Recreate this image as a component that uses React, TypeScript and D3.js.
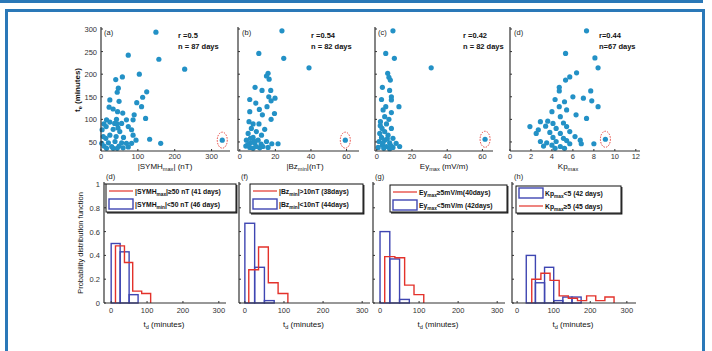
import React, { useEffect, useRef } from "react";
import * as d3 from "d3";

const W = 712;
const H = 351;
const FONT = "'Liberation Sans', Arial, sans-serif";
const FRAME = "#2a78b8";
const DOT = "#2391c6";
const RED = "#e3322b";
const NAVY = "#3f46b2";
const AXIS = "#333";

// top row: [driver value, t_e (minutes)] per event
const symhPts = [
  [149, 293], [74, 242], [157, 233], [227, 211], [104, 200], [58, 194], [40, 188], [47, 169],
  [44, 160], [124, 161], [24, 143], [49, 140], [113, 149], [110, 128], [97, 137], [22, 127],
  [33, 123], [45, 117], [59, 114], [90, 110], [121, 102], [87, 99], [8, 90], [24, 94],
  [42, 100], [44, 90], [56, 91], [74, 84], [83, 77], [14, 84], [3, 77], [33, 78],
  [51, 73], [87, 65], [24, 65], [41, 62], [61, 60], [13, 58], [95, 54], [132, 56],
  [162, 47], [2, 47], [20, 48], [38, 51], [56, 48], [69, 47], [83, 47], [8, 41],
  [29, 40], [49, 41], [33, 36], [15, 36], [60, 37], [74, 39], [44, 36], [6, 62],
  [46, 81], [69, 99], [15, 99], [37, 91],
];
const symhOutlier = [329, 54];

const bzPts = [
  [23.7, 296], [10.7, 246], [24.7, 235], [38.9, 214], [15.9, 202], [15, 196], [16.5, 189], [8.6, 171],
  [12.5, 164], [17.4, 164], [16.3, 150], [19.8, 147], [5.6, 144], [17.6, 141], [9, 136], [15.3, 128],
  [11, 122], [5.6, 117], [19.5, 113], [12.7, 110], [17.6, 100], [5.2, 95], [7.5, 90], [10.8, 90],
  [6.5, 80], [14, 78], [9.3, 73], [4.7, 69], [12.2, 65], [7.5, 60], [3.7, 54], [10.3, 54],
  [15, 51], [6, 48], [8.4, 47], [18, 46], [21.5, 46], [3.4, 41], [9.3, 40], [13, 40],
  [5.6, 38], [11.2, 37], [7.5, 36], [15.9, 38], [4.5, 44], [12, 45], [8, 52], [6, 58],
];
const bzOutlier = [59.3, 54];

const eyPts = [
  [9.2, 296], [5.1, 246], [10, 235], [30.9, 214], [6.2, 202], [6.9, 193], [7.7, 187], [3.2, 171],
  [7.3, 164], [8.3, 150], [2.7, 144], [8.3, 143], [12.6, 128], [5.1, 128], [3.6, 121], [8.3, 115],
  [4.5, 106], [6.9, 100], [2.1, 95], [5.5, 90], [3, 80], [8.3, 80], [4.5, 73], [1.7, 69],
  [6.4, 65], [2.7, 60], [9.2, 58], [4.5, 54], [1.3, 51], [7.3, 48], [11, 47], [3.2, 43],
  [5.5, 40], [0.8, 38], [9.2, 38], [4, 36], [7.3, 35], [13, 40], [2, 86], [6, 57],
  [3.5, 48], [8, 42],
];
const eyOutlier = [61.5, 56];

const kpPts = [
  [7.3, 296], [5.3, 246], [8.1, 236], [8.4, 214], [6.35, 203], [5.7, 194], [5.3, 187], [4.7, 171],
  [4.7, 163], [7.7, 163], [6, 150], [7, 147], [4.3, 144], [5.2, 139], [7.8, 141], [4.7, 128],
  [8.4, 128], [5.4, 121], [4, 117], [6.3, 110], [4.8, 106], [7.3, 102], [3.6, 96], [2.9, 95],
  [4.1, 91], [5.1, 92], [1.9, 84], [3.4, 85], [2.7, 77], [4.4, 80], [5.4, 84], [2.5, 69],
  [3.8, 71], [4.8, 69], [5.7, 73], [6.2, 62], [4.1, 60], [5.1, 58], [2.9, 51], [3.5, 48],
  [4.4, 51], [5.4, 53], [6.7, 54], [4, 43], [4.8, 40], [5.7, 46], [6.8, 46], [8, 46],
  [4.3, 36], [5.2, 36], [3.2, 41],
];
const kpOutlier = [9.1, 56];

const teTicks = [50, 100, 150, 200, 250, 300];
const pdfTicks = [0, 0.2, 0.4, 0.6, 0.8, 1];
const pdfTickLabels = ["0", "0.2", "0.4", "0.6", "0.8", "1"];
const tdTicks = [0, 100, 200, 300];

// bottom row: histogram bin edges (minutes) and probabilities
const symhLowEdges = [0, 25, 50, 75];
const symhLowVals = [0.5, 0.43, 0.07];
const symhHighEdges = [12, 37, 60, 85, 110];
const symhHighVals = [0.48, 0.34, 0.1, 0.08];

const bzLowEdges = [0, 25, 50, 75];
const bzLowVals = [0.67, 0.3, 0.02];
const bzHighEdges = [10, 35, 60, 85, 110];
const bzHighVals = [0.28, 0.47, 0.17, 0.08];

const eyLowEdges = [0, 25, 50, 75];
const eyLowVals = [0.6, 0.37, 0.03];
const eyHighEdges = [12, 38, 63, 87, 112];
const eyHighVals = [0.39, 0.38, 0.15, 0.07];

const kpLowEdges = [25, 50, 75, 100, 125, 150, 175];
const kpLowVals = [0.4, 0.17, 0.3, 0.02, 0.05, 0.05];
const kpHighEdges = [40, 65, 90, 115, 140, 165, 190, 215, 240, 265];
const kpHighVals = [0.2, 0.25, 0.19, 0.06, 0.04, 0.02, 0.06, 0.02, 0.05];

// text with "_" parts drawn as subscripts
function rich(g: any, x: number, y: number, parts: string[], size: number, weight = "normal", anchor = "start") {
  const t = g.append("text")
    .attr("x", x).attr("y", y)
    .attr("font-family", FONT).attr("font-size", size)
    .attr("font-weight", weight).attr("text-anchor", anchor)
    .attr("fill", "#111");
  let sub = false;
  parts.forEach((p) => {
    const isSub = p.startsWith("_");
    const ts = t.append("tspan").text(isSub ? p.slice(1) : p);
    if (isSub) ts.attr("font-size", size * 0.7);
    if (isSub && !sub) ts.attr("dy", size * 0.3);
    if (!isSub && sub) ts.attr("dy", -size * 0.3);
    sub = isSub;
  });
  return t;
}

const topY = d3.scaleLinear().domain([30, 300]).range([151, 29]);
const botY = d3.scaleLinear().domain([0, 1]).range([303, 184]);

const topPanels = [
  { tag: "(a)", tagX: 104, pts: symhPts, odd: symhOutlier, dom: [0, 350], rng: [101, 230], ticks: [0, 100, 200, 300],
    r: "r =0.5", n: "n =  87 days", sx: 178, xlab: ["|SYMH", "_max", "| (nT)"], xlx: 165, ylabels: true },
  { tag: "(b)", tagX: 242, pts: bzPts, odd: bzOutlier, dom: [-1, 67], rng: [238, 359], ticks: [0, 20, 40, 60],
    r: "r =0.54", n: "n = 82 days", sx: 311, xlab: ["|Bz", "_min", "|(nT)"], xlx: 305, ylabels: false },
  { tag: "(c)", tagX: 378, pts: eyPts, odd: eyOutlier, dom: [-1, 66], rng: [375, 493], ticks: [0, 20, 40, 60],
    r: "r =0.42", n: "n = 82 days", sx: 463, xlab: ["Ey", "_max", " (mV/m)"], xlx: 444, ylabels: false },
  { tag: "(d)", tagX: 514, pts: kpPts, odd: kpOutlier, dom: [0, 12.4], rng: [510, 640], ticks: [0, 2, 4, 6, 8, 10, 12],
    r: "r=0.44", n: "n=67 days", sx: 599, xlab: ["Kp", "_max"], xlx: 568, ylabels: false },
];

const botPanels = [
  { tag: "(d)", dom: [-20, 320], rng: [104, 226], low: [symhLowEdges, symhLowVals], high: [symhHighEdges, symhHighVals],
    ylabels: true, box: [106, 184, 130, 28],
    rows: [{ kind: "line", parts: ["|SYMH", "_max", "|≥50 nT (41 days)"] }, { kind: "patch", parts: ["|SYMH", "_min", "|<50 nT (46 days)"] }] },
  { tag: "(f)", dom: [-15, 320], rng: [239, 370], low: [bzLowEdges, bzLowVals], high: [bzHighEdges, bzHighVals],
    ylabels: false, box: [250, 184, 113, 29],
    rows: [{ kind: "line", parts: ["|Bz", "_min", "|>10nT (38days)"] }, { kind: "patch", parts: ["|Bz", "_min", "|<10nT (44days)"] }] },
  { tag: "(g)", dom: [-18, 320], rng: [373, 505], low: [eyLowEdges, eyLowVals], high: [eyHighEdges, eyHighVals],
    ylabels: false, box: [390, 185, 117, 27],
    rows: [{ kind: "line", parts: ["Ey", "_max", "≥5mV/m(40days)"] }, { kind: "patch", parts: ["Ey", "_max", "<5mV/m (42days)"] }] },
  { tag: "(h)", dom: [-14, 325], rng: [512, 636], low: [kpLowEdges, kpLowVals], high: [kpHighEdges, kpHighVals],
    ylabels: false, box: [516, 186, 105, 27],
    rows: [{ kind: "patch", parts: ["Kp", "_max", "<5 (42 days)"] }, { kind: "line", parts: ["Kp", "_max", "≥5 (45 days)"] }] },
];

export default function App() {
  const ref = useRef<SVGSVGElement>(null);

  useEffect(() => {
    const svg = d3.select(ref.current);
    svg.selectAll("*").remove();
    svg.append("rect").attr("width", W).attr("height", H).attr("fill", "#fff");

    // blue page frame
    svg.append("rect").attr("x", 0).attr("y", 0).attr("width", 703).attr("height", 3).attr("fill", FRAME);
    svg.append("path")
      .attr("d", "M6.5,351 L6.5,10.5 L703.5,10.5 L703.5,351")
      .attr("fill", "none").attr("stroke", FRAME).attr("stroke-width", 3);

    // ---- top row: scatter plots ----
    topPanels.forEach((p) => {
      const g = svg.append("g");
      const x = d3.scaleLinear().domain(p.dom).range(p.rng);

      g.selectAll("circle.pt")
        .data(p.pts)
        .enter()
        .append("circle")
        .attr("cx", (d: number[]) => x(d[0]))
        .attr("cy", (d: number[]) => topY(d[1]))
        .attr("r", 2.6)
        .attr("fill", DOT);
      g.append("circle").attr("cx", x(p.odd[0])).attr("cy", topY(p.odd[1])).attr("r", 2.6).attr("fill", DOT);
      g.append("ellipse")
        .attr("cx", x(p.odd[0])).attr("cy", topY(p.odd[1]))
        .attr("rx", 5).attr("ry", 8)
        .attr("fill", "none").attr("stroke", RED).attr("stroke-width", 0.9)
        .attr("stroke-dasharray", "1.5,1.2");

      // axes
      g.append("line").attr("x1", p.rng[0]).attr("x2", p.rng[0]).attr("y1", 27).attr("y2", 151)
        .attr("stroke", AXIS).attr("stroke-width", 1.2);
      g.append("line").attr("x1", p.rng[0]).attr("x2", p.rng[1]).attr("y1", 151).attr("y2", 151)
        .attr("stroke", AXIS).attr("stroke-width", 1.2);
      teTicks.forEach((v) => {
        g.append("line").attr("x1", p.rng[0]).attr("x2", p.rng[0] + 2).attr("y1", topY(v)).attr("y2", topY(v))
          .attr("stroke", AXIS);
        if (p.ylabels) {
          g.append("text").attr("x", p.rng[0] - 4).attr("y", topY(v) + 3).attr("text-anchor", "end")
            .attr("font-family", FONT).attr("font-size", 7.5).attr("fill", "#333").text(v);
        }
      });
      p.ticks.forEach((v) => {
        g.append("line").attr("x1", x(v)).attr("x2", x(v)).attr("y1", 151).attr("y2", 149).attr("stroke", AXIS);
        g.append("text").attr("x", x(v)).attr("y", 159).attr("text-anchor", "middle")
          .attr("font-family", FONT).attr("font-size", 7.5).attr("fill", "#333").text(v);
      });

      g.append("text").attr("x", p.tagX).attr("y", 35).attr("font-family", FONT).attr("font-size", 7.5)
        .attr("fill", "#222").text(p.tag);
      g.append("text").attr("x", p.sx).attr("y", 38).attr("font-family", FONT).attr("font-size", 7.5)
        .attr("font-weight", "bold").attr("fill", "#111").text(p.r);
      g.append("text").attr("x", p.sx).attr("y", 49).attr("font-family", FONT).attr("font-size", 7.5)
        .attr("font-weight", "bold").attr("fill", "#111").text(p.n);
      rich(g, p.xlx, 169, p.xlab, 8, "normal", "middle");
    });

    rich(svg, 0, 0, ["t", "_e", " (minutes)"], 8, "bold", "middle")
      .attr("transform", "translate(80,90) rotate(-90)");

    // ---- bottom row: histograms ----
    botPanels.forEach((p) => {
      const g = svg.append("g");
      const x = d3.scaleLinear().domain(p.dom).range(p.rng);
      const [le, lv] = p.low;
      const [he, hv] = p.high;

      // low group as outlined bars
      g.selectAll("rect.bar")
        .data(lv)
        .enter()
        .append("rect")
        .attr("x", (_d: number, i: number) => x(le[i]))
        .attr("y", (d: number) => botY(d))
        .attr("width", (_d: number, i: number) => x(le[i + 1]) - x(le[i]))
        .attr("height", (d: number) => botY(0) - botY(d))
        .attr("fill", "none")
        .attr("stroke", NAVY)
        .attr("stroke-width", 1.4);

      // high group as stairs
      const pts: [number, number][] = [[x(he[0]), botY(0)]];
      hv.forEach((v: number, i: number) => {
        pts.push([x(he[i]), botY(v)]);
        pts.push([x(he[i + 1]), botY(v)]);
      });
      pts.push([x(he[he.length - 1]), botY(0)]);
      g.append("path").attr("d", d3.line()(pts)).attr("fill", "none")
        .attr("stroke", RED).attr("stroke-width", 1.4);

      // axes
      g.append("line").attr("x1", p.rng[0]).attr("x2", p.rng[0]).attr("y1", 182).attr("y2", 303)
        .attr("stroke", AXIS).attr("stroke-width", 1.2);
      g.append("line").attr("x1", p.rng[0]).attr("x2", p.rng[1]).attr("y1", 303).attr("y2", 303)
        .attr("stroke", AXIS).attr("stroke-width", 1.2);
      pdfTicks.forEach((v, i) => {
        g.append("line").attr("x1", p.rng[0]).attr("x2", p.rng[0] + 2).attr("y1", botY(v)).attr("y2", botY(v))
          .attr("stroke", AXIS);
        if (p.ylabels) {
          g.append("text").attr("x", p.rng[0] - 4).attr("y", botY(v) + 3).attr("text-anchor", "end")
            .attr("font-family", FONT).attr("font-size", 7.5).attr("fill", "#333").text(pdfTickLabels[i]);
        }
      });
      tdTicks.forEach((v) => {
        g.append("line").attr("x1", x(v)).attr("x2", x(v)).attr("y1", 303).attr("y2", 301).attr("stroke", AXIS);
        g.append("text").attr("x", x(v)).attr("y", 313).attr("text-anchor", "middle")
          .attr("font-family", FONT).attr("font-size", 7.5).attr("fill", "#333").text(v);
      });
      g.append("text").attr("x", p.rng[0] + 2).attr("y", 179).attr("font-family", FONT).attr("font-size", 7.5)
        .attr("fill", "#222").text(p.tag);
      rich(g, (p.rng[0] + p.rng[1]) / 2 - 1, 327, ["t", "_d", " (minutes)"], 8, "normal", "middle");

      // legend
      const [bx, by, bw, bh] = p.box;
      g.append("rect").attr("x", bx).attr("y", by).attr("width", bw).attr("height", bh)
        .attr("fill", "#fff").attr("stroke", "#111").attr("stroke-width", 1);
      g.append("path").attr("d", `M${bx + 1},${by + bh + 0.8} L${bx + bw + 0.8},${by + bh + 0.8} L${bx + bw + 0.8},${by + 1}`)
        .attr("fill", "none").attr("stroke", "#111").attr("stroke-width", 1.2);
      p.rows.forEach((row, i) => {
        const cy = by + 7 + i * 13;
        if (row.kind === "line") {
          g.append("line").attr("x1", bx + 3).attr("x2", bx + 27).attr("y1", cy).attr("y2", cy)
            .attr("stroke", RED).attr("stroke-width", 1.2);
        } else {
          g.append("rect").attr("x", bx + 3).attr("y", cy - 5).attr("width", 24).attr("height", 10)
            .attr("fill", "#fff").attr("stroke", NAVY).attr("stroke-width", 1.4);
        }
        rich(g, bx + 29, cy + 2.5, row.parts, 6.8, "bold", "start");
      });
    });

    rich(svg, 0, 0, ["Probability distribution function"], 7.5, "normal", "middle")
      .attr("transform", "translate(83,243) rotate(-90)");
  }, []);

  return (
    <svg
      ref={ref}
      width={W}
      height={H}
      style={{ position: "absolute", left: 0, top: 0 }}
    />
  );
}
